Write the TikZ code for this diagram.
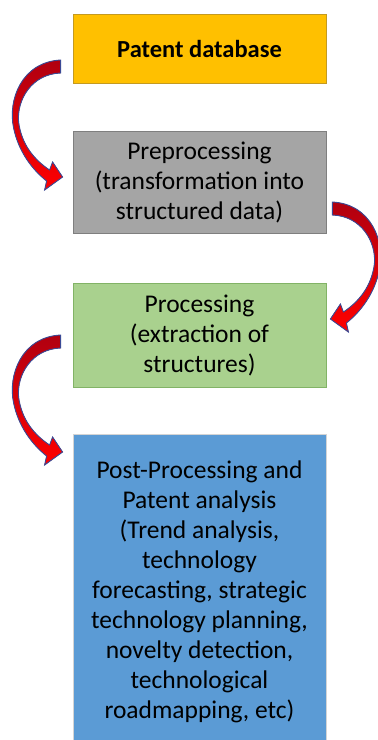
\documentclass[tikz,border=0pt]{standalone}
\usepackage{fontspec}
\setmainfont{Carlito}
\usetikzlibrary{arrows.meta}

\definecolor{dbfill}{HTML}{FFC000}
\definecolor{dbline}{HTML}{C49A20}
\definecolor{prefill}{HTML}{A5A5A5}
\definecolor{preline}{HTML}{7F7F7F}
\definecolor{profill}{HTML}{A9D18E}
\definecolor{proline}{HTML}{82B366}
\definecolor{postfill}{HTML}{5B9BD5}
\definecolor{postline}{HTML}{D4D4D4}
\definecolor{flowred}{HTML}{FF0000}
\definecolor{flowdark}{HTML}{B00010}
\definecolor{flowblue}{HTML}{3B4A96}

\begin{document}
\begin{tikzpicture}[
    x=1pt, y=-1pt,
    box/.style={draw, line width=0.8pt, minimum width=253pt, inner sep=0pt,
      align=center, font=\fontsize{25.5}{30}\selectfont},
    flow/.style={draw=flowblue, line width=0.9pt, top color=flowdark, bottom color=flowred}
]
  \useasboundingbox (0,0) rectangle (378,740);

  % 四个步骤
  \node[box, fill=dbfill, draw=dbline, minimum height=69pt,
    font=\fontsize{24.5}{30}\selectfont\bfseries] (pat) at (199.5,48.5) {Patent database};
  \node[box, fill=prefill, draw=preline, minimum height=102pt] (pre) at (199.5,182)
    {Preprocessing\\(transformation into\\structured data)};
  \node[box, fill=profill, draw=proline, minimum height=104pt] (pro) at (199.5,335)
    {Processing\\(extraction of\\structures)};
  \node[box, fill=postfill, draw=postline, minimum height=314pt, anchor=north] (post) at (199.5,434)
    {Post-Processing and\\Patent analysis\\(Trend analysis,\\technology\\forecasting, strategic\\technology planning,\\novelty detection,\\technological\\roadmapping, etc)};

  % 弯曲箭头的起点
  \coordinate (s1) at ([xshift=-12pt,yshift=-11.5pt]pat.west);
  \coordinate (s2) at ([xshift=6pt,yshift=-20pt]pre.east);
  \coordinate (s3) at ([xshift=-12pt]pro.west);

  % 弯曲箭头
  \foreach \s/\sc in {s1/1, s2/-1, s3/1} {
    \begin{scope}[shift={(\s)}, xscale=\sc]
      \filldraw[flow] (0,0) .. controls (-39,2) and (-53,40) .. (-47,68)
        .. controls (-42,92) and (-28,110) .. (-14,121)
        -- (-16,130) -- (2,117) -- (-8,102) -- (-11,110)
        .. controls (-26,100) and (-39,85) .. (-42,62)
        .. controls (-44,40) and (-29,14) .. (0,13) -- cycle;
    \end{scope}
  }

\end{tikzpicture}
\end{document}
